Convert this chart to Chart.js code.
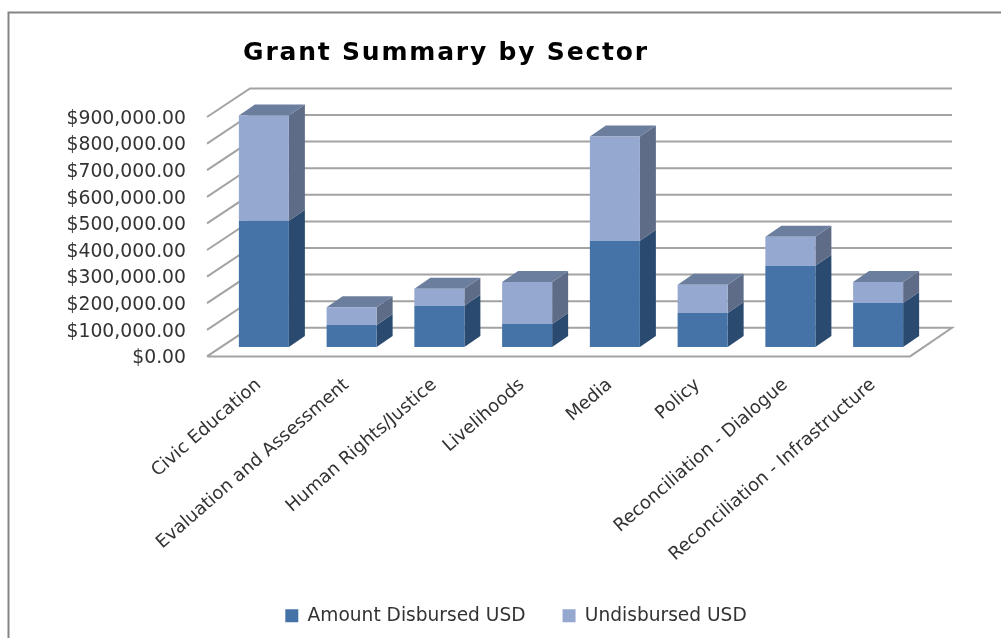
<!DOCTYPE html>
<html>
<head>
<meta charset="utf-8">
<title>Grant Summary by Sector</title>
<script src="https://cdn.jsdelivr.net/npm/chart.js@4"></script>
<style>
  html, body { margin: 0; padding: 0; background: #fff; overflow: hidden; }
  #box { width: 1001px; height: 638px; }
</style>
</head>
<body>
<div id="box"><canvas id="grantChart"></canvas></div>
<script>
/* DATA */
const sectors = [
  "Civic Education",
  "Evaluation and Assessment",
  "Human Rights/Justice",
  "Livelihoods",
  "Media",
  "Policy",
  "Reconciliation - Dialogue",
  "Reconciliation - Infrastructure"
];
const disbursed = [475000, 83000, 155000, 87000, 400000, 128000, 306000, 166000];
const undisbursed = [396000, 67000, 64000, 158000, 392000, 106000, 109000, 79000];

/* 3D LOOK: floor, walls and box sides */
const wallDx = 42, wallDy = -28.6;
const barDx = 12, barDy = -9.3;
const boxDx = 16, boxDy = -11;

function poly(ctx, pts, color) {
  ctx.beginPath();
  ctx.moveTo(pts[0][0], pts[0][1]);
  for (let i = 1; i < pts.length; i++) ctx.lineTo(pts[i][0], pts[i][1]);
  ctx.closePath();
  ctx.fillStyle = color;
  ctx.fill();
}

const threeD = {
  id: "threeD",
  beforeDraw(chart) {
    const ctx = chart.ctx;
    ctx.save();
    ctx.strokeStyle = "#858585";
    ctx.lineWidth = 2;
    ctx.beginPath();
    ctx.moveTo(8.5, 638);
    ctx.lineTo(8.5, 12.5);
    ctx.lineTo(1001, 12.5);
    ctx.stroke();
    ctx.restore();
  },
  afterLayout(chart) {
    // title and legend do not sit on the page centre in the original
    const title = chart.titleBlock;
    title.left -= 9;
    title.right -= 9;
    chart.legend.left += 61;
    chart.legend.right += 61;
    // the title is spaced out wider than any installed font
    if (!title.spaced) {
      title.spaced = true;
      const draw = title.draw;
      title.draw = function () {
        chart.ctx.letterSpacing = "1.8px";
        draw.apply(this, arguments);
        chart.ctx.letterSpacing = "0px";
      };
    }
  },
  beforeDatasetsDraw(chart) {
    const ctx = chart.ctx;
    const xs = chart.scales.x, ys = chart.scales.y;
    const l = xs.left, r = xs.right;
    ctx.save();
    ctx.strokeStyle = "#a3a3a3";
    ctx.lineWidth = 2;
    ys.ticks.forEach(t => {
      const y = ys.getPixelForValue(t.value);
      ctx.beginPath();
      ctx.moveTo(l - 1, y);
      ctx.lineTo(l + wallDx, y + wallDy);
      ctx.lineTo(r + wallDx, y + wallDy);
      if (t.value === 0) {
        ctx.lineTo(r, y);
        ctx.lineTo(l - 1, y);
      }
      ctx.stroke();
    });
    ctx.restore();

    ctx.save();
    ctx.translate(barDx, barDy);
    const sideColors = ["#2a4a70", "#5e6c87"];
    chart.data.datasets.forEach((ds, d) => {
      chart.getDatasetMeta(d).data.forEach(b => {
        const x2 = b.x + b.width / 2, x1 = b.x - b.width / 2;
        poly(ctx, [[x2, b.base], [x2 + boxDx, b.base + boxDy], [x2 + boxDx, b.y + boxDy], [x2, b.y]], sideColors[d]);
        if (d === 1) {
          poly(ctx, [[x1, b.y], [x1 + boxDx, b.y + boxDy], [x2 + boxDx, b.y + boxDy], [x2, b.y]], "#6c7e9e");
        }
      });
    });
    ctx.restore();

    // the bars stand in the middle of the floor, not on its front edge
    ctx.save();
    ctx.translate(barDx, barDy);
  },
  afterDatasetsDraw(chart) {
    chart.ctx.restore();
  }
};

/* CHART */
new Chart(document.getElementById("grantChart"), {
  type: "bar",
  data: {
    labels: sectors,
    datasets: [
      { label: "Amount Disbursed USD", data: disbursed, backgroundColor: "#4573a7", clip: false },
      { label: "Undisbursed USD", data: undisbursed, backgroundColor: "#94a8d0", clip: false }
    ]
  },
  plugins: [threeD],
  options: {
    responsive: true,
    maintainAspectRatio: false,
    animation: false,
    barPercentage: 0.57,
    categoryPercentage: 1,
    layout: { padding: { left: 0, right: 91, top: 0, bottom: 3 } },
    plugins: {
      title: {
        display: true,
        text: "Grant Summary by Sector",
        color: "#000",
        font: { family: "DejaVu Sans", size: 25, weight: "bold" },
        padding: { top: 38, bottom: 49 }
      },
      legend: {
        position: "bottom",
        labels: {
          color: "#333",
          font: { family: "DejaVu Sans", size: 18.6 },
          boxWidth: 13,
          boxHeight: 13,
          padding: 37
        }
      },
      tooltip: { enabled: false }
    },
    scales: {
      x: {
        stacked: true,
        grid: { display: false },
        border: { display: false },
        afterFit(s) { s.height = 213; },
        ticks: {
          color: "#333",
          font: { family: "DejaVu Sans", size: 18 },
          minRotation: 41,
          maxRotation: 41,
          autoSkip: false,
          padding: 10,
          labelOffset: 7
        }
      },
      y: {
        stacked: true,
        min: 0,
        max: 900000,
        grid: { display: false },
        border: { display: false },
        afterFit(s) { s.width = 208; },
        ticks: {
          color: "#333",
          stepSize: 100000,
          autoSkip: false,
          padding: 14,
          labelOffset: 2,
          font: { family: "DejaVu Sans", size: 18.8 },
          callback: v => "$" + v.toLocaleString("en-US", { minimumFractionDigits: 2, maximumFractionDigits: 2 })
        }
      }
    }
  }
});
</script>
</body>
</html>
